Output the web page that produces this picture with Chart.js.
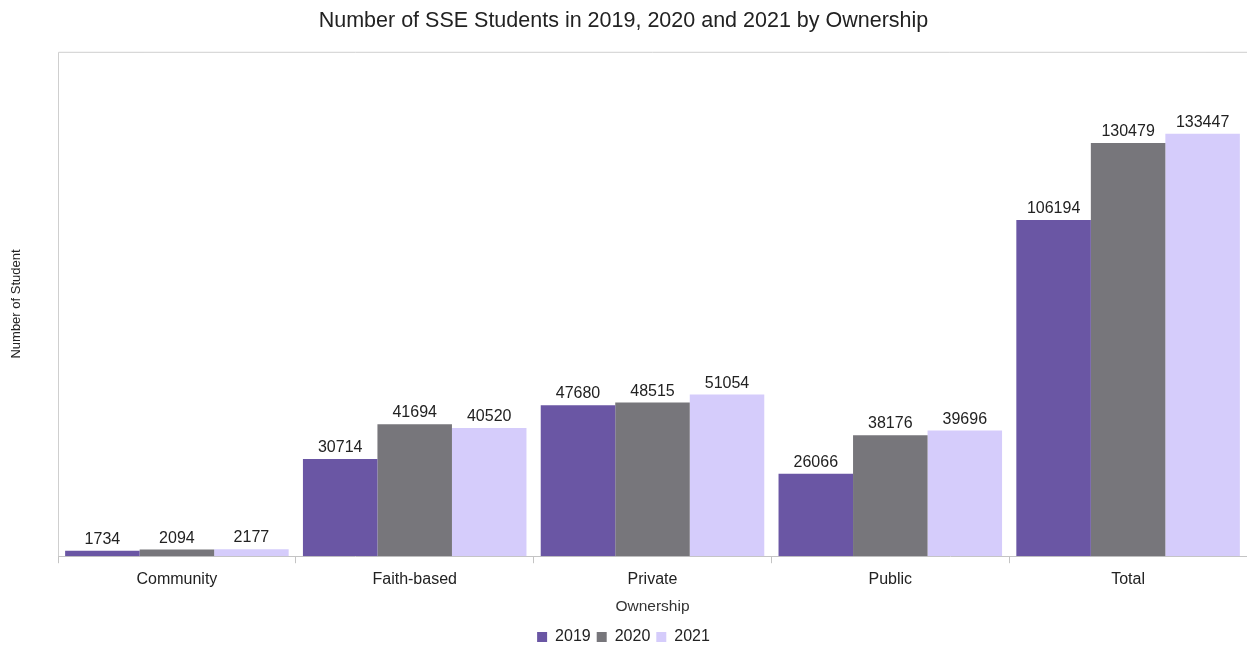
<!DOCTYPE html>
<html>
<head>
<meta charset="utf-8">
<script src="https://cdn.jsdelivr.net/npm/chart.js@4.4.0/dist/chart.umd.min.js"></script>
<style>
  html, body { margin: 0; padding: 0; background: #fff; }
  #wrap { width: 1247px; height: 647px; }
</style>
</head>
<body>
<div id="wrap"><canvas id="sseChart"></canvas></div>
<script>
// ==============================
// DATA
// ==============================
const categories = ["Community", "Faith-based", "Private", "Public", "Total"];
const years = ["2019", "2020", "2021"];
const students2019 = [1734, 30714, 47680, 26066, 106194];
const students2020 = [2094, 41694, 48515, 38176, 130479];
const students2021 = [2177, 40520, 51054, 39696, 133447];

const colors = ["#6a56a4", "#77767b", "#d5ccfb"];
const FONT = "'Liberation Sans', Arial, sans-serif";

// value labels above each bar
const valueLabels = {
  id: "valueLabels",
  afterDatasetsDraw(chart) {
    const ctx = chart.ctx;
    ctx.save();
    ctx.font = "16px " + FONT;
    ctx.fillStyle = "#222";
    ctx.textAlign = "center";
    ctx.textBaseline = "alphabetic";
    chart.data.datasets.forEach((ds, i) => {
      chart.getDatasetMeta(i).data.forEach((bar, j) => {
        ctx.fillText(String(ds.data[j]), bar.x, bar.y - 7);
      });
    });
    ctx.restore();
  },
};

// light frame on the top and left of the plot area
const plotFrame = {
  id: "plotFrame",
  beforeDatasetsDraw(chart) {
    const { ctx, chartArea } = chart;
    ctx.save();
    ctx.strokeStyle = "#cfcfcf";
    ctx.lineWidth = 1;
    ctx.beginPath();
    ctx.moveTo(chartArea.left + 0.5, chartArea.bottom);
    ctx.lineTo(chartArea.left + 0.5, chartArea.top + 0.5);
    ctx.lineTo(chart.width, chartArea.top + 0.5);
    ctx.stroke();
    ctx.restore();
  },
};

const datasets = [students2019, students2020, students2021].map((arr, i) => ({
  label: years[i],
  data: arr,
  backgroundColor: colors[i],
  borderColor: colors[i],
  borderWidth: 0,
  categoryPercentage: 0.94,
  barPercentage: 1.0,
}));

new Chart(document.getElementById("sseChart"), {
  type: "bar",
  data: { labels: categories, datasets },
  options: {
    responsive: true,
    maintainAspectRatio: false,
    animation: false,
    layout: { padding: { left: 0, right: 0, top: 0, bottom: -8 } },
    scales: {
      x: {
        grid: {
          drawOnChartArea: false,
          drawTicks: true,
          tickLength: 7,
          color: "#c4c4c4",
        },
        border: { color: "#c4c4c4" },
        ticks: { color: "#222", font: { family: FONT, size: 16 }, padding: 7 },
        title: {
          display: true,
          text: "Ownership",
          color: "#333",
          font: { family: FONT, size: 15.5 },
          padding: { top: 1, bottom: 7 },
        },
      },
      y: {
        min: 0,
        max: 159300,
        grid: { display: false },
        border: { display: false },
        ticks: { display: false },
        title: {
          display: true,
          text: "Number of Student",
          color: "#222",
          font: { family: FONT, size: 13 },
          padding: { top: 9, bottom: 0 },
        },
        afterFit(scale) {
          scale.width = 58;
        },
      },
    },
    plugins: {
      title: {
        display: true,
        text: "Number of SSE Students in 2019, 2020 and 2021 by Ownership",
        color: "#222",
        font: { family: FONT, size: 21.5, weight: "normal" },
        padding: { top: 8, bottom: 18 },
      },
      legend: {
        position: "bottom",
        labels: {
          boxWidth: 10,
          boxHeight: 10,
          color: "#222",
          font: { family: FONT, size: 16 },
          padding: 6,
        },
      },
      tooltip: { enabled: false },
    },
  },
  plugins: [valueLabels, plotFrame],
});
</script>
</body>
</html>
